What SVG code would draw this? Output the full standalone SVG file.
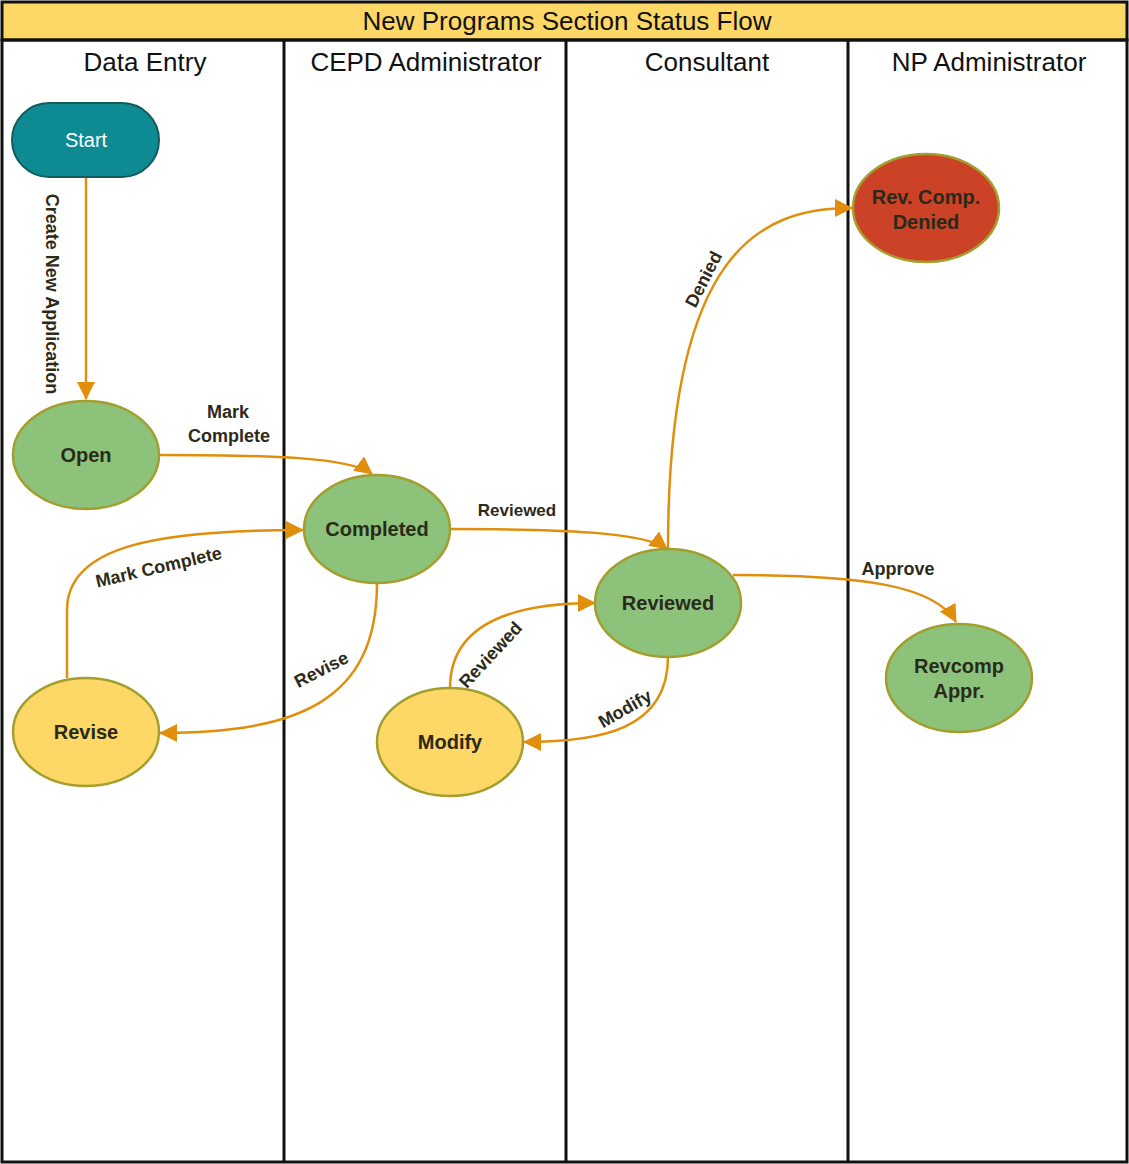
<svg xmlns="http://www.w3.org/2000/svg" width="1129" height="1164" viewBox="0 0 1129 1164">
<style>
.lane{fill:none;stroke:#111;stroke-width:3}
.hdr{font-family:"Liberation Sans",Arial,sans-serif;font-size:26px;fill:#111;text-anchor:middle}
.node{stroke:#a39e2e;stroke-width:2.5}
.green{fill:#8cc27a}
.yellow{fill:#fdd866}
.red{fill:#cc4226}
.nt{font-family:"Liberation Sans",Arial,sans-serif;font-size:20px;font-weight:bold;fill:#2a2a1a;text-anchor:middle}
.edge{fill:none;stroke:#e08e0b;stroke-width:2.5}
.el{font-family:"Liberation Sans",Arial,sans-serif;font-size:18px;font-weight:bold;fill:#2e2a18;text-anchor:middle}
</style>
<defs>
<marker id="arr" viewBox="0 0 18 18" refX="17" refY="9" markerWidth="18" markerHeight="18" markerUnits="userSpaceOnUse" orient="auto">
<path d="M0,0 L18,9 L0,18 z" fill="#e08e0b"/>
</marker>
</defs>
<rect width="1129" height="1164" fill="#fff"/>
<g id="pool">
<rect x="2" y="2" width="1125" height="38" fill="#fdd866" stroke="#111" stroke-width="3"/>
<text class="hdr" x="567" y="30">New Programs Section Status Flow</text>
<rect class="lane" x="2" y="40" width="1125" height="1122"/>
<line class="lane" x1="284" y1="40" x2="284" y2="1162"/>
<line class="lane" x1="566" y1="40" x2="566" y2="1162"/>
<line class="lane" x1="848" y1="40" x2="848" y2="1162"/>
<text class="hdr" x="145" y="71">Data Entry</text>
<text class="hdr" x="426" y="71">CEPD Administrator</text>
<text class="hdr" x="707" y="71">Consultant</text>
<text class="hdr" x="989" y="71">NP Administrator</text>
</g>
<g id="connectors">
<path class="edge" d="M86,177 L86,399" marker-end="url(#arr)"/>
<path class="edge" d="M159,455 C270,455 350,457 372,474" marker-end="url(#arr)"/>
<path class="edge" d="M450,529 C560,529 645,532 667,549" marker-end="url(#arr)"/>
<path class="edge" d="M67,678 L67,610 C67,545 160,530 303,530" marker-end="url(#arr)"/>
<path class="edge" d="M377,583 C377,700 300,733 160,733" marker-end="url(#arr)"/>
<path class="edge" d="M668,549 C668,250 760,208 852,208" marker-end="url(#arr)"/>
<path class="edge" d="M668,657 C668,730 600,742 524,742" marker-end="url(#arr)"/>
<path class="edge" d="M450,688 C450,620 520,603 595,603" marker-end="url(#arr)"/>
<path class="edge" d="M733,575 C860,575 935,585 956,622" marker-end="url(#arr)"/>
<text class="el" transform="translate(46,294) rotate(90)">Create New Application</text>
<text class="el" x="228" y="418">Mark</text>
<text class="el" x="229" y="442">Complete</text>
<text class="el" x="517" y="516" style="font-size:17px">Reviewed</text>
<text class="el" transform="translate(160,573) rotate(-13)">Mark Complete</text>
<text class="el" transform="translate(324,675) rotate(-27)">Revise</text>
<text class="el" transform="translate(709,282) rotate(-63)">Denied</text>
<text class="el" transform="translate(628,714) rotate(-30)">Modify</text>
<text class="el" transform="translate(495,659) rotate(-47)">Reviewed</text>
<text class="el" x="898" y="575">Approve</text>
</g>
<g id="start">
<rect x="12" y="103" width="147" height="74" rx="37" fill="#0e8a93" stroke="#165a5e" stroke-width="2"/>
<text x="86" y="147" font-family="'Liberation Sans',Arial,sans-serif" font-size="20" fill="#fff" text-anchor="middle">Start</text>
</g>
<g id="open">
<ellipse class="node green" cx="86" cy="455" rx="73" ry="54"/>
<text class="nt" x="86" y="462">Open</text>
</g>
<g id="completed">
<ellipse class="node green" cx="377" cy="529" rx="73" ry="54"/>
<text class="nt" x="377" y="536">Completed</text>
</g>
<g id="revise">
<ellipse class="node yellow" cx="86" cy="732" rx="73" ry="54"/>
<text class="nt" x="86" y="739">Revise</text>
</g>
<g id="modify">
<ellipse class="node yellow" cx="450" cy="742" rx="73" ry="54"/>
<text class="nt" x="450" y="749">Modify</text>
</g>
<g id="reviewed">
<ellipse class="node green" cx="668" cy="603" rx="73" ry="54"/>
<text class="nt" x="668" y="610">Reviewed</text>
</g>
<g id="denied">
<ellipse class="node red" cx="926" cy="208" rx="73" ry="54"/>
<text class="nt" x="926" y="204">Rev. Comp.</text>
<text class="nt" x="926" y="229">Denied</text>
</g>
<g id="approved">
<ellipse class="node green" cx="959" cy="678" rx="73" ry="54"/>
<text class="nt" x="959" y="673">Revcomp</text>
<text class="nt" x="959" y="698">Appr.</text>
</g>
</svg>
